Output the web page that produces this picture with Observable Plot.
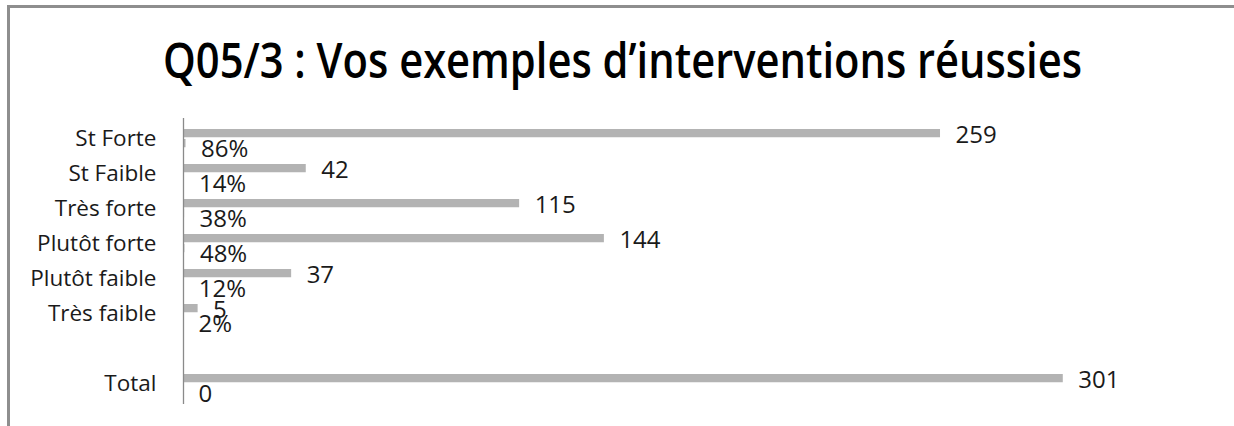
<!DOCTYPE html>
<html>
<head>
<meta charset="utf-8">
<script src="https://cdn.jsdelivr.net/npm/d3@7"></script>
<script src="https://cdn.jsdelivr.net/npm/@observablehq/plot@0.6"></script>
<style>
  html, body { margin: 0; background: #fff; font-family: "Open Sans", sans-serif; overflow: hidden; }
  #wrap { position: relative; width: 1234px; height: 426px; overflow: hidden; background: #fff; }
  #frame { position: absolute; left: 7px; top: 5px; width: 1300px; height: 500px;
           border-top: 3px solid #8e8e8e; border-left: 3px solid #8e8e8e; }
  #title { position: absolute; left: 0; top: 0; }
  #chart { position: absolute; left: 0; top: 112px; }
</style>
</head>
<body>
<div id="wrap">
  <div id="frame"></div>
  <svg id="title" width="1234" height="112">
    <text x="622.5" y="78" text-anchor="middle" font-family="Open Sans" font-size="48" font-weight="600"
          fill="#000" textLength="919" lengthAdjust="spacingAndGlyphs">Q05/3 : Vos exemples d’interventions réussies</text>
  </svg>
  <div id="chart"></div>
</div>
<script>
// Categories top to bottom (blank row separates the total)
const categories = ["St Forte", "St Faible", "Très forte", "Plutôt forte", "Plutôt faible", "Très faible", " ", "Total"];
const rowNames = ["St Forte", "St Faible", "Très forte", "Plutôt forte", "Plutôt faible", "Très faible", "Total"];
// Number of answers
const counts = [259, 42, 115, 144, 37, 5, 301];
// Share within each group
const shares = [0.86, 0.14, 0.38, 0.48, 0.12, 0.02, 0];

const rows = rowNames.map((category, i) => ({ category, count: counts[i], share: shares[i] }));
const fmtShare = v => v === 0 ? "0" : Math.round(v * 100) + "%";

const chart = Plot.plot({
  width: 1234,
  height: 314,
  marginTop: 6,
  marginBottom: 22,
  marginLeft: 183,
  marginRight: 28,
  x: { domain: [0, 350], axis: null },
  y: { domain: categories, padding: 0, axis: null },
  style: { fontFamily: "Open Sans", fontSize: "22px", color: "#1a1a1a", background: "transparent" },
  marks: [
    Plot.barX(rows, { x: "count", y: "category", fill: "#b3b3b3", insetTop: 8, insetBottom: 18.75 }),
    Plot.barX(rows, { x: "share", y: "category", fill: "#b3b3b3", insetTop: 18, insetBottom: 8.75 }),
    Plot.ruleX([0], { stroke: "#8a8a8a", strokeWidth: 1.3 }),
    Plot.text(rows, { x: "count", y: "category", text: d => String(d.count), textAnchor: "start",
                      dx: 15, dy: -4, fontSize: 24, fill: "#1a1a1a" }),
    Plot.text(rows, { x: "share", y: "category", text: d => fmtShare(d.share), textAnchor: "start",
                      dx: 15, dy: 10, fontSize: 24, fill: "#1a1a1a" }),
    Plot.axisY({ tickSize: 0, tickPadding: 27, fontSize: 22.5, label: null, fill: "#1a1a1a" })
  ]
});
document.getElementById("chart").appendChild(chart);
</script>
</body>
</html>
